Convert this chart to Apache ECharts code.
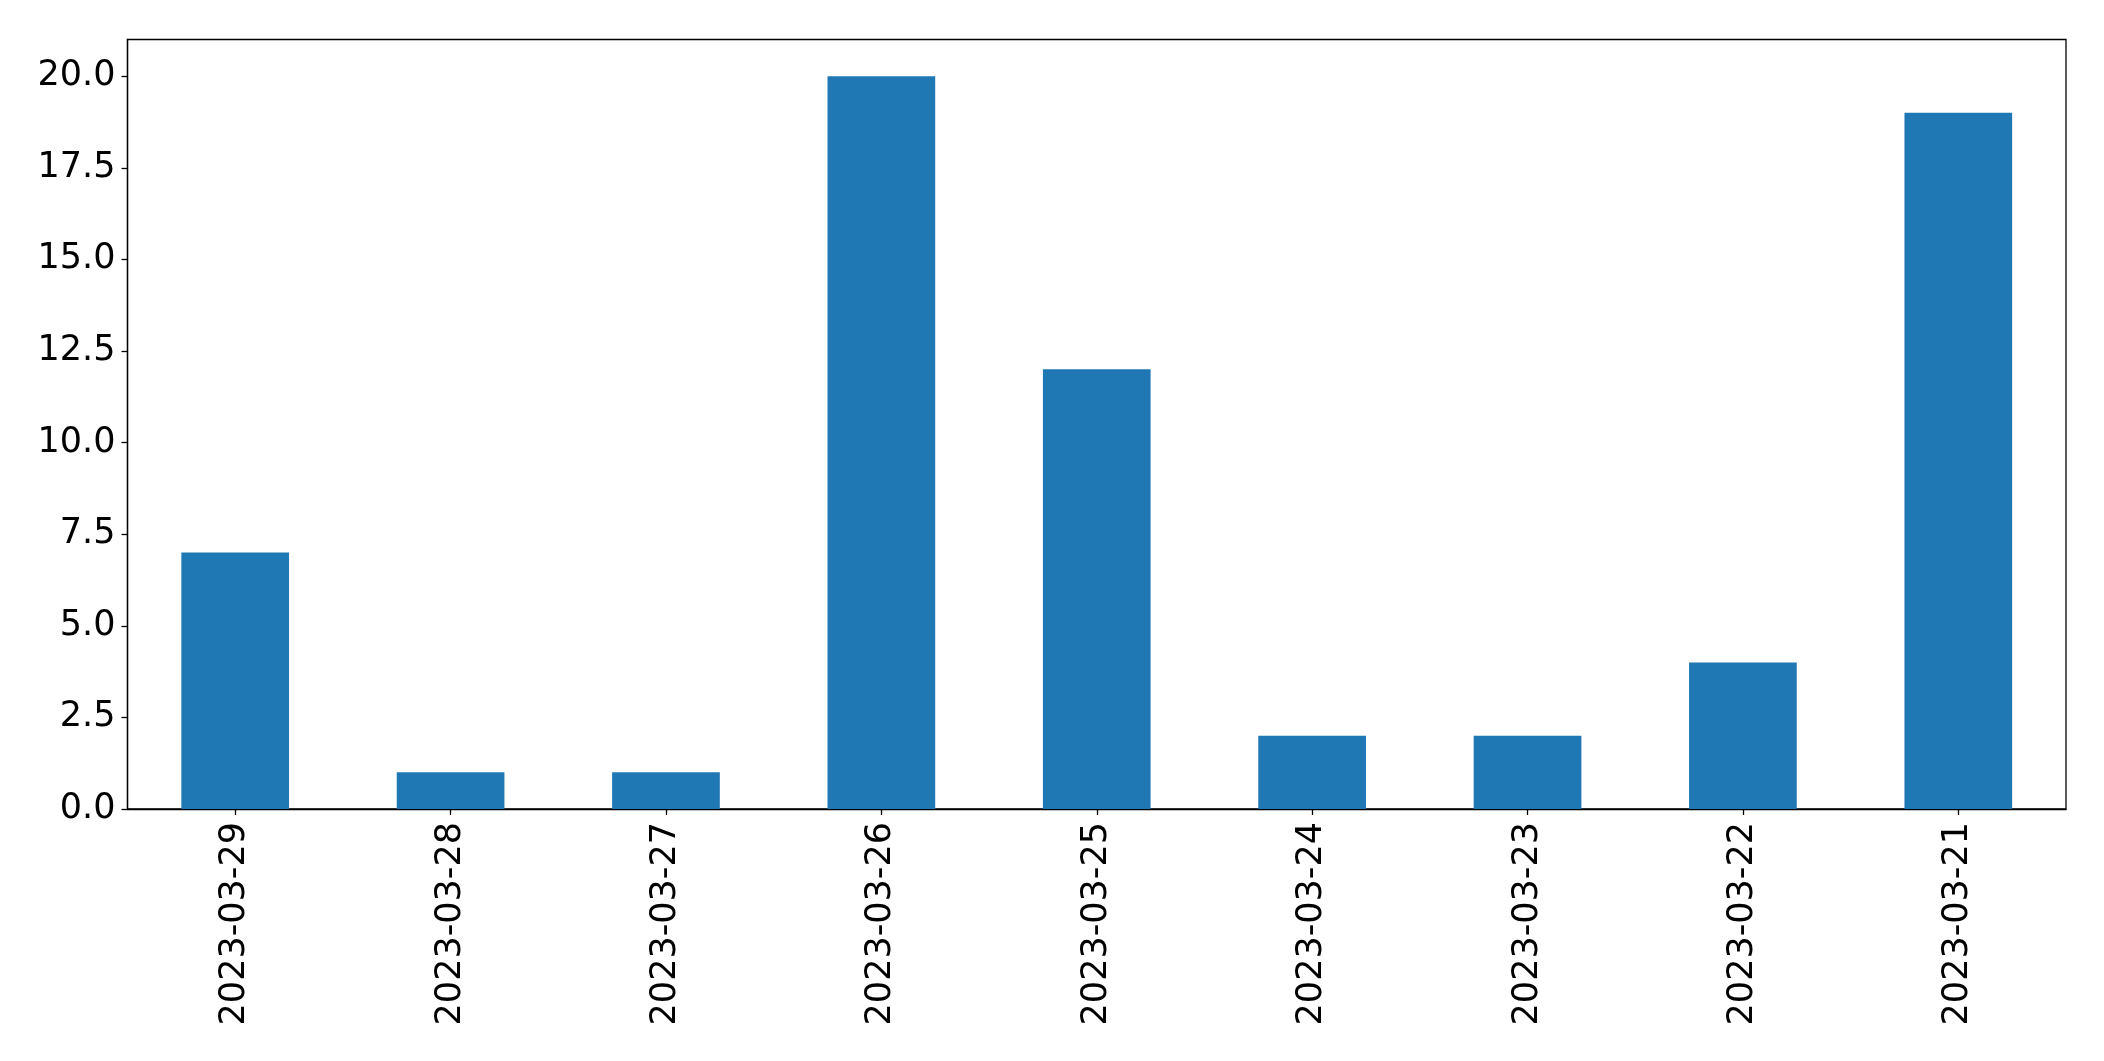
<!DOCTYPE html>
<html>
<head>
<meta charset="utf-8">
<script src="https://cdn.jsdelivr.net/npm/echarts@6/dist/echarts.min.js"></script>
<style>html,body{margin:0;padding:0;background:#fff;}#chart{width:2104px;height:1061px;}</style>
</head>
<body>
<div id="chart"></div>
<script>
const categories = ['2023-03-29','2023-03-28','2023-03-27','2023-03-26','2023-03-25','2023-03-24','2023-03-23','2023-03-22','2023-03-21'];
const values = [7, 1, 1, 20, 12, 2, 2, 4, 19];
const yTicks = [0, 2.5, 5, 7.5, 10, 12.5, 15, 17.5, 20];

const chart = echarts.init(document.getElementById('chart'));
const font = 'DejaVu Sans';
chart.setOption({
  animation: false,
  backgroundColor: '#ffffff',
  grid: {
    left: 127.5, top: 39.5, right: 38, bottom: 252,
    show: true, borderColor: '#000', borderWidth: 1.3, backgroundColor: 'transparent'
  },
  xAxis: {
    type: 'category',
    data: categories,
    boundaryGap: true,
    axisLine: { show: true, lineStyle: { color: '#000', width: 1.3 } },
    axisTick: { show: true, alignWithLabel: true, length: 6, lineStyle: { color: '#000', width: 1.3 } },
    axisLabel: { rotate: 90, fontSize: 35, fontFamily: font, color: '#000', margin: 13 },
    splitLine: { show: false }
  },
  yAxis: {
    type: 'value',
    min: 0, max: 21,
    axisLine: { show: true, lineStyle: { color: '#000', width: 1.3 } },
    axisTick: { show: true, length: 6, lineStyle: { color: '#000', width: 1.3 }, customValues: yTicks },
    axisLabel: { fontSize: 35, fontFamily: font, color: '#000', margin: 12,
      customValues: yTicks, formatter: v => Number(v).toFixed(1) },
    splitLine: { show: false }
  },
  series: [{
    type: 'bar',
    data: values,
    barWidth: '50%',
    itemStyle: { color: '#1f77b4' }
  }]
});
</script>
</body>
</html>
